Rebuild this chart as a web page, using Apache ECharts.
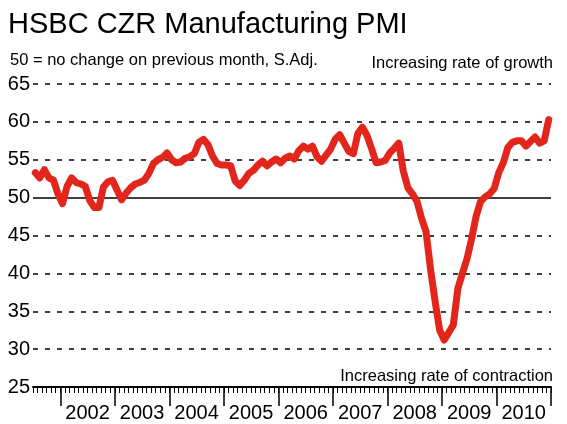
<!DOCTYPE html>
<html>
<head>
<meta charset="utf-8">
<script src="https://cdn.jsdelivr.net/npm/echarts@6/dist/echarts.min.js"></script>
<style>
  html, body { margin: 0; padding: 0; background: #fff; }
  #chart { width: 567px; height: 424px; }
</style>
</head>
<body>
<div id="chart"></div>
<script>
// monthly PMI, Jul 2001 .. Dec 2010
const startMonth = 6 // months after Jan 2001, i.e. Jul 2001
const pmi = [
  53.3, 52.6, 53.7, 52.6, 52.3, 50.5,
  49.2, 51.5, 52.6, 52.0, 51.8, 51.5, 49.6, 48.7, 48.7, 51.4, 52.1, 52.3,
  51.0, 49.7, 50.6, 51.3, 51.8, 52.0, 52.3, 53.2, 54.5, 55.0, 55.3, 55.9,
  55.0, 54.6, 54.7, 55.2, 55.4, 55.8, 57.3, 57.7, 57.0, 55.5, 54.5, 54.3,
  54.3, 54.2, 52.2, 51.6, 52.3, 53.2, 53.6, 54.3, 54.8, 54.2, 54.7, 55.1,
  54.6, 55.2, 55.5, 55.1, 56.2, 56.8, 56.4, 56.8, 55.4, 54.8, 55.6, 56.4,
  57.7, 58.3, 57.2, 56.1, 55.8, 58.5, 59.3, 58.2, 56.5, 54.6, 54.7, 54.9,
  55.9, 56.5, 57.2, 53.5, 51.3, 50.5, 49.5, 47.3, 45.5, 40.5, 36.3, 32.5,
  31.2, 32.2, 33.2, 38.0, 40.0, 41.9, 44.5, 47.5, 49.5, 50.1, 50.5, 51.2,
  53.3, 54.6, 56.6, 57.3, 57.5, 57.5, 56.8, 57.4, 58.0, 57.2, 57.5, 60.3
]
const years = ['2002', '2003', '2004', '2005', '2006', '2007', '2008', '2009', '2010']
const yTicks = [25, 30, 35, 40, 45, 50, 55, 60, 65]

const font = 'Liberation Sans, Arial, Helvetica, sans-serif'
const xMin = startMonth
const xMax = 12 * (years.length + 1)

// year boundaries and year middles, in months since Jan 2001
const yearStarts = years.map((y, i) => 12 * (i + 1)).concat([xMax])
const yearMids = years.map((y, i) => 12 * (i + 1) + 6)

const chart = echarts.init(document.getElementById('chart'), null, { renderer: 'canvas' })
chart.setOption({
  animation: false,
  backgroundColor: '#fff',
  textStyle: { fontFamily: font },
  title: [
    {
      text: 'HSBC CZR Manufacturing PMI',
      left: 3, top: 5,
      textStyle: { fontSize: 29, fontWeight: 'normal', color: '#000', fontFamily: font }
    },
    {
      text: '50 = no change on previous month, S.Adj.',
      left: 5, top: 47,
      textStyle: { fontSize: 16.5, fontWeight: 'normal', color: '#000', fontFamily: font }
    },
    {
      text: 'Increasing rate of growth',
      right: 9, top: 50,
      textStyle: { fontSize: 16.5, fontWeight: 'normal', color: '#000', fontFamily: font }
    },
    {
      text: 'Increasing rate of contraction',
      right: 9, top: 363,
      textStyle: { fontSize: 16.5, fontWeight: 'normal', color: '#000', fontFamily: font }
    }
  ],
  grid: { left: 33, right: 16, top: 84, bottom: 37 },
  xAxis: [
    {
      type: 'value',
      min: xMin,
      max: xMax,
      position: 'bottom',
      axisLine: { show: true, lineStyle: { color: '#000', width: 2 } },
      axisTick: {
        show: true,
        customValues: yearStarts,
        length: 19,
        lineStyle: { color: '#000', width: 1.5 }
      },
      axisLabel: {
        customValues: yearMids,
        formatter: v => years[Math.round((v - 18) / 12)],
        fontSize: 20,
        color: '#000',
        margin: 16,
        fontFamily: font
      },
      splitLine: { show: false }
    },
    {
      type: 'value',
      min: xMin,
      max: xMax,
      interval: 1,
      position: 'bottom',
      axisLine: { show: false },
      axisTick: { show: true, length: 6, lineStyle: { color: '#000', width: 1 } },
      axisLabel: { show: false },
      splitLine: { show: false }
    }
  ],
  yAxis: [
    {
      type: 'value',
      min: yTicks[0],
      max: yTicks[yTicks.length - 1],
      interval: 5,
      axisLine: { show: false },
      axisTick: { show: false },
      axisLabel: { fontSize: 20, color: '#000', margin: 3, fontFamily: font },
      splitLine: {
        show: true,
        lineStyle: {
          color: yTicks.map(t => (t === 25 || t === 50) ? 'rgba(0,0,0,0)' : '#000'),
          width: 1.5,
          type: [5, 7]
        }
      }
    },
    {
      // solid line at 50
      type: 'value',
      min: yTicks[0],
      max: yTicks[yTicks.length - 1],
      interval: 5,
      axisLine: { show: false },
      axisTick: { show: false },
      axisLabel: { show: false },
      splitLine: {
        show: true,
        lineStyle: {
          color: yTicks.map(t => t === 50 ? '#000' : 'rgba(0,0,0,0)'),
          width: 1.5,
          type: 'solid'
        }
      }
    }
  ],
  series: [
    {
      name: 'PMI',
      type: 'line',
      xAxisIndex: 0,
      yAxisIndex: 0,
      data: pmi.map((v, i) => [startMonth + i + 0.5, v]),
      showSymbol: false,
      smooth: false,
      lineStyle: { color: '#e3261c', width: 7, cap: 'round', join: 'round' },
      z: 5
    }
  ]
})
</script>
</body>
</html>
